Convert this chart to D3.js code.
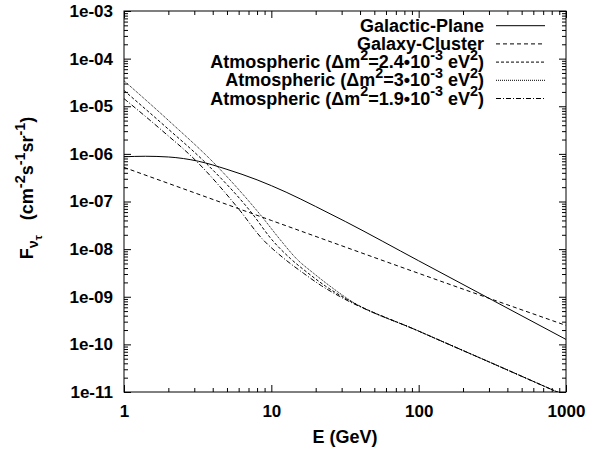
<!DOCTYPE html>
<html>
<head>
<meta charset="utf-8">
<script src="https://cdn.jsdelivr.net/npm/d3@7"></script>
<style>
    body { margin: 0; background: #fff; }
    svg { display: block; font-family: "Liberation Sans", Arial, Helvetica, sans-serif; font-weight: bold; }
    text { white-space: pre; }
</style>
</head>
<body>
<div id="chart"></div>
<script>
// Axis ticks
const xTicks = [1, 10, 100, 1000];
const xTickLabels = ["1", "10", "100", "1000"];
const yTicks = [1e-3, 1e-4, 1e-5, 1e-6, 1e-7, 1e-8, 1e-9, 1e-10, 1e-11];
const yTickLabels = ["1e-03", "1e-04", "1e-05", "1e-06", "1e-07", "1e-08", "1e-09", "1e-10", "1e-11"];

// Galactic-Plane
const galacticE = [1, 1.4, 2, 3.2, 5, 8, 12.6, 20, 32, 100, 316, 1000];
const galacticF = [8.71e-7, 8.91e-7, 8.61e-7, 7.0e-7, 4.73e-7, 2.85e-7, 1.57e-7, 7.85e-8, 3.76e-8, 5.69e-9, 8.51e-10, 1.27e-10];

// Galaxy-Cluster
const clusterE = [1, 10, 100, 1000];
const clusterF = [5.2e-7, 4.0e-8, 3.1e-9, 2.5e-10];

// Atmospheric, dm2 = 2.4e-3
const atm24E = [1, 1.9, 3.64, 7.36, 10.1, 13.5, 17.7, 23.4, 31.6, 100, 316, 1000];
const atm24F = [2.14e-5, 3.80e-6, 6.17e-7, 5.75e-8, 1.57e-8, 6.31e-9, 3.16e-9, 1.66e-9, 9.33e-10, 1.9e-10, 4.0e-11, 8.3e-12];

// Atmospheric, dm2 = 3e-3
const atm3E = [1, 2.04, 4.26, 8.61, 11.5, 14.8, 19.3, 25.1, 33.1, 100, 316, 1000];
const atm3F = [3.43e-5, 4.79e-6, 5.60e-7, 4.84e-8, 1.57e-8, 6.31e-9, 3.13e-9, 1.66e-9, 9.0e-10, 1.9e-10, 4.0e-11, 8.3e-12];

// Atmospheric, dm2 = 1.9e-3
const atm19E = [1, 1.78, 3.12, 5.98, 8.65, 12.0, 16.5, 21.9, 29.2, 100, 316, 1000];
const atm19F = [1.445e-5, 3.24e-6, 6.89e-7, 7.08e-8, 1.66e-8, 6.61e-9, 3.13e-9, 1.70e-9, 1.01e-9, 1.9e-10, 4.0e-11, 8.3e-12];

const seriesNames = [
    "Galactic-Plane",
    "Galaxy-Cluster",
    "Atmospheric (Δm^{2}=2.4•10^{-3} eV^{2})",
    "Atmospheric (Δm^{2}=3•10^{-3} eV^{2})",
    "Atmospheric (Δm^{2}=1.9•10^{-3} eV^{2})"
];

const series = [
    { name: seriesNames[0], E: galacticE, F: galacticF, dash: null },
    { name: seriesNames[1], E: clusterE, F: clusterF, dash: "4,3" },
    { name: seriesNames[2], E: atm24E, F: atm24F, dash: "3,2" },
    { name: seriesNames[3], E: atm3E, F: atm3F, dash: "1,1" },
    { name: seriesNames[4], E: atm19E, F: atm19F, dash: "5,2,1,2" }
];

const W = 610, H = 451;
const margin = { top: 11, right: 44, bottom: 59, left: 124 };
const width = W - margin.left - margin.right;
const height = H - margin.top - margin.bottom;
const FONT = 17;       // tick labels
const BIG = 18;        // legend and axis titles

const root = d3.select("#chart").append("svg")
    .attr("width", W)
    .attr("height", H);

const svg = root.append("g")
    .attr("transform", `translate(${margin.left},${margin.top})`);

const x = d3.scaleLog().domain([1, 1000]).range([0, width]);
const y = d3.scaleLog().domain([1e-11, 1e-3]).range([height, 0]);

// minor ticks 2..9 in each decade
const minorX = [];
[1, 10, 100].forEach(d => { for (let k = 2; k <= 9; k++) minorX.push(d * k); });
const minorY = [];
yTicks.slice(1).forEach(d => { for (let k = 2; k <= 9; k++) minorY.push(d * k); });

// text with ^{} superscripts and _{} subscripts
function richText(sel, str, size) {
    const parts = str.split(/(\^\{[^}]*\}|_\{[^}]*\})/).filter(s => s.length);
    let shift = 0;
    parts.forEach(p => {
        let txt = p, fs = size, target = 0;
        if (p.startsWith("^{")) { txt = p.slice(2, -1); fs = size * 0.8; target = -0.45 * size; }
        else if (p.startsWith("_{")) { txt = p.slice(2, -1); fs = size * 0.8; target = 0.3 * size; }
        sel.append("tspan")
            .attr("font-size", fs)
            .attr("dy", target - shift)
            .text(txt);
        shift = target;
    });
}

function styleAxis(g) {
    g.select(".domain").remove();
    g.selectAll(".tick line").attr("stroke", "#000");
    g.selectAll(".tick text")
        .attr("fill", "#000")
        .attr("font-size", FONT);
    g.attr("font-family", null).attr("font-size", null);
}

// bottom axis with labels
svg.append("g")
    .attr("transform", `translate(0,${height})`)
    .call(d3.axisBottom(x).tickValues(xTicks).tickFormat((d, i) => xTickLabels[i]).tickSize(-7).tickPadding(13))
    .call(styleAxis);
svg.append("g")
    .attr("transform", `translate(0,${height})`)
    .call(d3.axisBottom(x).tickValues(minorX).tickFormat("").tickSize(-4))
    .call(styleAxis);

// top mirror
svg.append("g")
    .call(d3.axisTop(x).tickValues(xTicks).tickFormat("").tickSize(-7))
    .call(styleAxis);
svg.append("g")
    .call(d3.axisTop(x).tickValues(minorX).tickFormat("").tickSize(-4))
    .call(styleAxis);

// left axis with labels
svg.append("g")
    .call(d3.axisLeft(y).tickValues(yTicks).tickFormat((d, i) => yTickLabels[i]).tickSize(-7).tickPadding(11))
    .call(styleAxis);
svg.append("g")
    .call(d3.axisLeft(y).tickValues(minorY).tickFormat("").tickSize(-4))
    .call(styleAxis);

// right mirror
svg.append("g")
    .attr("transform", `translate(${width},0)`)
    .call(d3.axisRight(y).tickValues(yTicks).tickFormat("").tickSize(-7))
    .call(styleAxis);
svg.append("g")
    .attr("transform", `translate(${width},0)`)
    .call(d3.axisRight(y).tickValues(minorY).tickFormat("").tickSize(-4))
    .call(styleAxis);

// frame
svg.append("rect")
    .attr("x", 0).attr("y", 0)
    .attr("width", width).attr("height", height)
    .attr("fill", "none")
    .attr("stroke", "#000")
    .attr("stroke-width", 1);

// curves
svg.append("clipPath").attr("id", "plot-clip")
    .append("rect").attr("width", width).attr("height", height);

const line = d3.line()
    .x(d => x(d[0]))
    .y(d => y(d[1]))
    .curve(d3.curveMonotoneX);

svg.append("g")
    .attr("clip-path", "url(#plot-clip)")
    .selectAll("path")
    .data(series)
    .join("path")
    .attr("d", s => line(s.E.map((e, i) => [e, s.F[i]])))
    .attr("fill", "none")
    .attr("stroke", "#000")
    .attr("stroke-width", 1)
    .attr("stroke-dasharray", s => s.dash);

// legend
const legend = svg.append("g");
series.forEach((s, i) => {
    const ly = 14.7 + i * 18.2;
    const t = legend.append("text")
        .attr("x", 484 - margin.left)
        .attr("y", ly + 6)
        .attr("text-anchor", "end")
        .attr("font-size", BIG)
        .attr("fill", "#000");
    richText(t, s.name, BIG);
    legend.append("line")
        .attr("x1", 496 - margin.left).attr("x2", 545 - margin.left)
        .attr("y1", ly).attr("y2", ly)
        .attr("stroke", "#000")
        .attr("stroke-width", 1)
        .attr("stroke-dasharray", s.dash);
});

// axis titles
root.append("text")
    .attr("x", margin.left + width / 2)
    .attr("y", 443)
    .attr("text-anchor", "middle")
    .attr("font-size", BIG)
    .text("E (GeV)");

const yl = root.append("text")
    .attr("transform", "translate(33,188) rotate(-90)")
    .attr("text-anchor", "middle")
    .attr("font-size", BIG);
yl.append("tspan").text("F");
yl.append("tspan").attr("font-size", BIG * 0.8).attr("dy", 0.3 * BIG).text("ν");
yl.append("tspan").attr("font-size", BIG * 0.64).attr("dy", 0.2 * BIG).text("τ");
yl.append("tspan").attr("dy", -0.5 * BIG).text("   (cm");
yl.append("tspan").attr("font-size", BIG * 0.8).attr("dy", -0.45 * BIG).text("-2");
yl.append("tspan").attr("dy", 0.45 * BIG).text("s");
yl.append("tspan").attr("font-size", BIG * 0.8).attr("dy", -0.45 * BIG).text("-1");
yl.append("tspan").attr("dy", 0.45 * BIG).text("sr");
yl.append("tspan").attr("font-size", BIG * 0.8).attr("dy", -0.45 * BIG).text("-1");
yl.append("tspan").attr("dy", 0.45 * BIG).text(")");
</script>
</body>
</html>
